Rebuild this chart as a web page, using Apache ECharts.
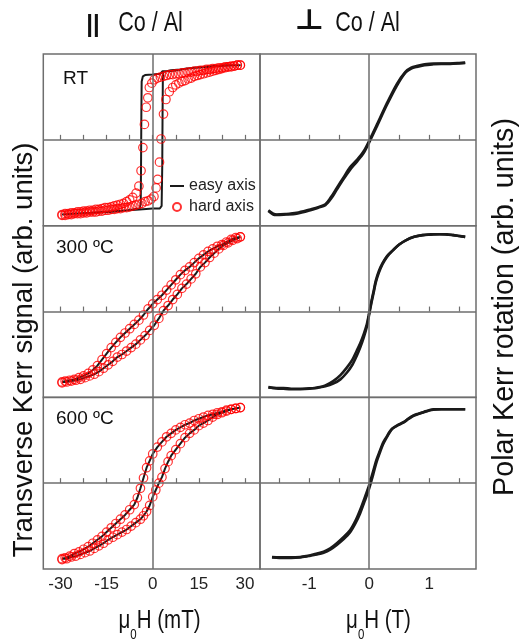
<!DOCTYPE html>
<html>
<head>
<meta charset="utf-8">
<script src="https://cdn.jsdelivr.net/npm/echarts@6.0.0/dist/echarts.min.js"></script>
<style>
  html, body { margin: 0; padding: 0; background: #fff; }
  #chart { width: 525px; height: 640px; }
</style>
</head>
<body>
<div id="chart"></div>
<script>
// ---- axis ticks ----
const fieldTicksMT = [-30, -22.5, -15, -7.5, 0, 7.5, 15, 22.5, 30];
const fieldLabelsMT = [-30, -15, 0, 15, 30];
const fieldTicksT = [-1.5, -1, -0.5, 0, 0.5, 1, 1.5];
const fieldLabelsT = [-1, 0, 1];

const rowLabels = ['RT', '300 ºC', '600 ºC'];

// ---- transverse Kerr, in-plane field (mT, normalised signal) ----
// RT, easy axis
const easyRT_down = [[28.6,0.87],[26,0.87],[22,0.86],[18,0.85],[14,0.84],[11,0.83],[8,0.81],[5.5,0.80],[4,0.80],[3.2,0.80],[2.5,0.77],[0,0.76],[-2.5,0.755],[-3.2,0.74],[-3.6,0.68],[-3.7,0.3],[-3.8,-0.3],[-3.9,-0.75],[-4.3,-0.80],[-8,-0.82],[-14,-0.84],[-20,-0.85],[-26,-0.86],[-29.5,-0.87]];
const easyRT_up = [[-29.5,-0.87],[-26,-0.86],[-20,-0.85],[-14,-0.835],[-8,-0.82],[-4.3,-0.81],[0,-0.80],[2.3,-0.80],[2.9,-0.77],[3.1,-0.3],[3.2,0.3],[3.3,0.74],[3.5,0.80],[4.5,0.80],[6,0.81],[9,0.82],[12,0.835],[16,0.85],[20,0.86],[24,0.87],[28.6,0.87]];
// RT, hard axis
const hardRT_down = [[28.5,0.87],[27.5,0.87],[26.5,0.86],[25.5,0.86],[24.5,0.85],[23.5,0.85],[22.5,0.84],[21.5,0.84],[20.5,0.83],[19.5,0.83],[18.5,0.82],[17.5,0.82],[16.5,0.81],[15.5,0.81],[14.5,0.80],[13.5,0.80],[12.5,0.79],[11.5,0.79],[10.5,0.78],[9.5,0.78],[8.5,0.77],[7.5,0.77],[6.5,0.76],[5.5,0.76],[4.5,0.75],[3.5,0.74],[2.5,0.73],[1.5,0.72],[0.5,0.70],[-0.3,0.66],[-1.1,0.61],[-1.6,0.49],[-2.1,0.38],[-2.7,0.18],[-3.2,-0.09],[-3.8,-0.36],[-4.5,-0.54],[-5.4,-0.62],[-6.5,-0.67],[-7.5,-0.70],[-8.5,-0.72],[-9.5,-0.74],[-10.5,-0.75],[-11.5,-0.76],[-12.5,-0.77],[-13.5,-0.78],[-14.5,-0.79],[-15.5,-0.79],[-16.5,-0.80],[-17.5,-0.81],[-18.5,-0.81],[-19.5,-0.82],[-20.5,-0.82],[-21.5,-0.83],[-22.5,-0.83],[-23.5,-0.84],[-24.5,-0.84],[-25.5,-0.85],[-26.5,-0.85],[-27.5,-0.86],[-28.5,-0.86],[-29.5,-0.87]];
const hardRT_up = [[-29.5,-0.88],[-28.5,-0.88],[-27.5,-0.87],[-26.5,-0.87],[-25.5,-0.86],[-24.5,-0.86],[-23.5,-0.86],[-22.5,-0.85],[-21.5,-0.85],[-20.5,-0.84],[-19.5,-0.84],[-18.5,-0.84],[-17.5,-0.83],[-16.5,-0.83],[-15.5,-0.82],[-14.5,-0.82],[-13.5,-0.81],[-12.5,-0.81],[-11.5,-0.80],[-10.5,-0.80],[-9.5,-0.79],[-8.5,-0.79],[-7.5,-0.78],[-6.5,-0.77],[-5.5,-0.76],[-4.5,-0.75],[-3.5,-0.74],[-2.5,-0.72],[-1.5,-0.71],[-0.5,-0.69],[0.4,-0.66],[1.1,-0.56],[1.6,-0.46],[2.2,-0.26],[2.7,0.01],[3.5,0.30],[4.3,0.47],[5.4,0.56],[6.5,0.61],[7.5,0.64],[8.5,0.66],[9.5,0.68],[10.5,0.69],[11.5,0.71],[12.5,0.72],[13.5,0.74],[14.5,0.75],[15.5,0.76],[16.5,0.77],[17.5,0.78],[18.5,0.79],[19.5,0.80],[20.5,0.81],[21.5,0.82],[22.5,0.83],[23.5,0.84],[24.5,0.85],[25.5,0.85],[26.5,0.86],[27.5,0.87],[28.5,0.87]];
// 300 ºC (easy and hard axis coincide)
const loop300_down = [[28.5,0.87],[27,0.86],[25.5,0.84],[24,0.81],[22.5,0.78],[21,0.76],[19.5,0.73],[18,0.70],[16.5,0.66],[15,0.62],[13.5,0.57],[12,0.52],[10.5,0.48],[9,0.43],[7.5,0.37],[6,0.31],[4.5,0.25],[3,0.19],[1.5,0.14],[0,0.09],[-1.5,0.03],[-3,-0.04],[-4.5,-0.10],[-6,-0.15],[-7.5,-0.20],[-9,-0.25],[-10.5,-0.30],[-12,-0.36],[-13.5,-0.42],[-15,-0.49],[-16.5,-0.56],[-18,-0.63],[-19.5,-0.68],[-21,-0.72],[-22.5,-0.75],[-24,-0.77],[-25.5,-0.79],[-27,-0.80],[-28.5,-0.81],[-29.5,-0.82]];
const loop300_up = [[-29.5,-0.83],[-28,-0.82],[-26.5,-0.81],[-25,-0.80],[-23.5,-0.79],[-22,-0.77],[-20.5,-0.75],[-19,-0.73],[-17.5,-0.70],[-16,-0.66],[-14.5,-0.62],[-13,-0.58],[-11.5,-0.53],[-10,-0.50],[-8.5,-0.46],[-7,-0.42],[-5.5,-0.38],[-4,-0.33],[-2.5,-0.28],[-1,-0.22],[0.5,-0.16],[2,-0.08],[3.5,0.01],[5,0.07],[6.5,0.14],[8,0.20],[9.5,0.27],[11,0.32],[12.5,0.38],[14,0.44],[15.5,0.52],[17,0.57],[18.5,0.63],[20,0.68],[21.5,0.73],[23,0.77],[24.5,0.80],[26,0.83],[27.5,0.85],[28.5,0.87]];
// 600 ºC (easy and hard axis coincide)
const loop600_down = [[28.5,0.88],[27,0.87],[25.5,0.86],[24,0.85],[22.5,0.83],[21,0.82],[19.5,0.80],[18,0.79],[16.5,0.77],[15,0.75],[13.5,0.73],[12,0.70],[10.5,0.68],[9,0.65],[7.5,0.62],[6,0.58],[4.5,0.54],[3,0.48],[1.5,0.42],[0,0.34],[-1,0.26],[-2,0.18],[-3,0.06],[-4,-0.06],[-5,-0.17],[-6,-0.25],[-7.5,-0.31],[-9,-0.37],[-10.5,-0.42],[-12,-0.47],[-13.5,-0.52],[-15,-0.57],[-16.5,-0.62],[-18,-0.66],[-19.5,-0.70],[-21,-0.74],[-22.5,-0.77],[-24,-0.80],[-25.5,-0.82],[-27,-0.85],[-28.5,-0.87],[-29.5,-0.88]];
const loop600_up = [[-29.5,-0.89],[-28,-0.88],[-26.5,-0.86],[-25,-0.85],[-23.5,-0.83],[-22,-0.81],[-20.5,-0.79],[-19,-0.76],[-17.5,-0.73],[-16,-0.70],[-14.5,-0.66],[-13,-0.63],[-11.5,-0.60],[-10,-0.57],[-8.5,-0.54],[-7,-0.50],[-5.5,-0.46],[-4,-0.42],[-3,-0.38],[-2,-0.33],[-1,-0.26],[0,-0.16],[1,-0.08],[2,0.00],[3,0.07],[4,0.17],[5,0.25],[6,0.32],[7.5,0.39],[9,0.46],[10.5,0.53],[12,0.58],[13.5,0.62],[15,0.67],[16.5,0.70],[18,0.73],[19.5,0.77],[21,0.80],[22.5,0.82],[24,0.84],[25.5,0.86],[27,0.87],[28.5,0.88]];

// ---- polar Kerr, out-of-plane field (T, normalised rotation) ----
const polarRT_a = [[-1.68,-0.82],[-1.6,-0.86],[-1.54,-0.87],[-1.4,-0.865],[-1.21,-0.85],[-0.98,-0.81],[-0.85,-0.785],[-0.73,-0.75],[-0.64,-0.67],[-0.54,-0.56],[-0.43,-0.44],[-0.32,-0.32],[-0.2,-0.23],[-0.09,-0.13],[0.0,-0.01],[0.13,0.18],[0.29,0.42],[0.46,0.65],[0.6,0.79],[0.7,0.84],[0.79,0.86],[0.92,0.88],[1.07,0.89],[1.2,0.89],[1.35,0.89],[1.5,0.895],[1.6,0.90]];
const polarRT_b = [[-1.68,-0.83],[-1.6,-0.87],[-1.54,-0.875],[-1.4,-0.87],[-1.21,-0.86],[-0.98,-0.82],[-0.85,-0.79],[-0.73,-0.76],[-0.64,-0.69],[-0.54,-0.58],[-0.43,-0.46],[-0.32,-0.35],[-0.2,-0.25],[-0.09,-0.15],[0.0,-0.03],[0.13,0.16],[0.29,0.40],[0.46,0.63],[0.6,0.78],[0.7,0.83],[0.79,0.85],[0.92,0.87],[1.07,0.88],[1.2,0.885],[1.35,0.885],[1.5,0.89],[1.6,0.895]];
const polar300_a = [[-1.68,-0.88],[-1.55,-0.89],[-1.43,-0.89],[-1.3,-0.90],[-1.15,-0.90],[-1.0,-0.895],[-0.87,-0.89],[-0.73,-0.86],[-0.6,-0.81],[-0.48,-0.74],[-0.37,-0.65],[-0.28,-0.56],[-0.21,-0.46],[-0.15,-0.37],[-0.09,-0.26],[-0.04,-0.15],[-0.01,-0.05],[0.04,0.13],[0.08,0.26],[0.11,0.36],[0.16,0.47],[0.22,0.56],[0.3,0.65],[0.39,0.71],[0.5,0.78],[0.61,0.83],[0.75,0.87],[0.89,0.89],[1.03,0.90],[1.17,0.90],[1.3,0.90],[1.4,0.89],[1.5,0.88],[1.6,0.87]];
const polar300_b = [[-1.68,-0.885],[-1.55,-0.895],[-1.43,-0.90],[-1.3,-0.905],[-1.15,-0.905],[-1.0,-0.90],[-0.87,-0.885],[-0.73,-0.87],[-0.6,-0.84],[-0.48,-0.79],[-0.37,-0.71],[-0.28,-0.62],[-0.21,-0.52],[-0.15,-0.42],[-0.09,-0.30],[-0.04,-0.18],[-0.01,-0.07],[0.04,0.11],[0.08,0.24],[0.11,0.34],[0.16,0.45],[0.22,0.55],[0.3,0.64],[0.39,0.71],[0.5,0.78],[0.61,0.83],[0.75,0.87],[0.89,0.89],[1.03,0.895],[1.17,0.90],[1.3,0.895],[1.4,0.89],[1.5,0.88],[1.6,0.87]];
const polar600_a = [[-1.62,-0.86],[-1.5,-0.865],[-1.43,-0.865],[-1.3,-0.865],[-1.15,-0.86],[-1.05,-0.85],[-0.98,-0.84],[-0.87,-0.82],[-0.76,-0.80],[-0.65,-0.76],[-0.54,-0.70],[-0.43,-0.63],[-0.32,-0.55],[-0.23,-0.44],[-0.15,-0.31],[-0.07,-0.16],[0.0,-0.02],[0.07,0.15],[0.12,0.27],[0.18,0.38],[0.23,0.47],[0.29,0.54],[0.34,0.60],[0.39,0.64],[0.48,0.68],[0.57,0.71],[0.65,0.75],[0.74,0.79],[0.82,0.81],[0.91,0.83],[1.0,0.85],[1.07,0.86],[1.2,0.86],[1.35,0.86],[1.5,0.86],[1.6,0.86]];
const polar600_b = [[-1.62,-0.865],[-1.5,-0.87],[-1.43,-0.87],[-1.3,-0.87],[-1.15,-0.865],[-1.05,-0.855],[-0.98,-0.845],[-0.87,-0.83],[-0.76,-0.81],[-0.65,-0.775],[-0.54,-0.72],[-0.43,-0.655],[-0.32,-0.575],[-0.23,-0.47],[-0.15,-0.35],[-0.07,-0.20],[0.0,-0.06],[0.07,0.11],[0.12,0.24],[0.18,0.36],[0.23,0.45],[0.29,0.53],[0.34,0.59],[0.39,0.635],[0.48,0.675],[0.57,0.705],[0.65,0.745],[0.74,0.785],[0.82,0.805],[0.91,0.825],[1.0,0.845],[1.07,0.855],[1.2,0.86],[1.35,0.86],[1.5,0.86],[1.6,0.86]];

// ---- layout ----
const GRAY = '#6e6e6e';
const INK = '#1a1a1a';
const RED = '#ff0000';
const FONT = 'Liberation Sans, Arial, sans-serif';
const cols = [
  { left: 43.3, width: 216.7, min: -35.6, max: 34.9, ticks: fieldTicksMT, labels: fieldLabelsMT },
  { left: 260,  width: 216,   min: -1.82, max: 1.78, ticks: fieldTicksT,  labels: fieldLabelsT }
];
const rowTops = [54, 225.7, 397.3];
const rowH = 171.7;

const grids = [], xAxes = [], yAxes = [], series = [];
rowTops.forEach((top, r) => {
  cols.forEach((c, ci) => {
    const i = grids.length;
    grids.push({ left: c.left, top: top, width: c.width, height: rowH, show: true,
                 borderColor: GRAY, borderWidth: 1.5, backgroundColor: 'transparent', containLabel: false });
    xAxes.push({
      gridIndex: i, type: 'value', min: c.min, max: c.max,
      axisLine: { show: false }, splitLine: { show: false },
      axisTick: { show: true, inside: true, length: 5, customValues: c.ticks, lineStyle: { color: GRAY, width: 1.2 } },
      axisLabel: { show: r === 2, customValues: c.labels, margin: 7, fontSize: 17, color: '#222', fontFamily: FONT }
    });
    yAxes.push({ gridIndex: i, type: 'value', min: -1, max: 1, show: false });
    // zero lines across each panel
    series.push({
      type: 'line', xAxisIndex: i, yAxisIndex: i, data: [], silent: true, z: 1,
      markLine: { silent: true, symbol: 'none', animation: false, label: { show: false },
                  lineStyle: { color: GRAY, width: 1.5, type: 'solid' },
                  data: [{ xAxis: 0 }, { yAxis: 0 }] }
    });
  });
});

function easyLine(i, pts) {
  return { name: 'easy axis', type: 'line', xAxisIndex: i, yAxisIndex: i, data: pts,
           showSymbol: false, symbol: 'none', z: 3,
           lineStyle: { color: INK, width: 2 },
           itemStyle: { color: 'rgba(0,0,0,0)', borderWidth: 0 } };
}
function hardDots(i, pts) {
  return { name: 'hard axis', type: 'scatter', xAxisIndex: i, yAxisIndex: i, data: pts,
           symbol: 'circle', symbolSize: 8.5, z: 4,
           itemStyle: { color: 'rgba(255,255,255,0)', borderColor: RED, borderWidth: 1.2 } };
}
function polarLine(i, pts) {
  return { type: 'line', xAxisIndex: i, yAxisIndex: i, data: pts, showSymbol: false, symbol: 'none',
           smooth: 0.3, z: 3, lineStyle: { color: INK, width: 2.6 } };
}

series.push(easyLine(0, easyRT_down.concat(easyRT_up)));
series.push(hardDots(0, hardRT_down.concat(hardRT_up)));
series.push(easyLine(2, loop300_down.concat(loop300_up)));
series.push(hardDots(2, loop300_down.concat(loop300_up)));
series.push(easyLine(4, loop600_down.concat(loop600_up)));
series.push(hardDots(4, loop600_down.concat(loop600_up)));
series.push(polarLine(1, polarRT_a), polarLine(1, polarRT_b));
series.push(polarLine(3, polar300_a), polarLine(3, polar300_b));
series.push(polarLine(5, polar600_a), polarLine(5, polar600_b));

const rowLabelPos = [[63, 79], [56, 248], [56, 419]];
const graphic = [];
rowLabels.forEach((t, r) => {
  graphic.push({ type: 'text', x: rowLabelPos[r][0], y: rowLabelPos[r][1],
                 style: { text: t, font: '19px ' + FONT, fill: '#111', align: 'left', verticalAlign: 'middle' } });
});
// column headings
graphic.push({ type: 'text', x: 93, y: 25,
               style: { text: '||', font: 'bold 24px ' + FONT, fill: '#111', align: 'center', verticalAlign: 'middle' } });
graphic.push({ type: 'text', x: 150.5, y: 23, scaleX: 0.77,
               style: { text: 'Co / Al', font: '28px ' + FONT, fill: '#111', align: 'center', verticalAlign: 'middle' } });
graphic.push({ type: 'text', x: 309.5, y: 22, scaleX: 1.15,
               style: { text: '⊥', font: 'bold 28px DejaVu Sans', fill: '#111', align: 'center', verticalAlign: 'middle' } });
graphic.push({ type: 'text', x: 367.5, y: 23, scaleX: 0.77,
               style: { text: 'Co / Al', font: '28px ' + FONT, fill: '#111', align: 'center', verticalAlign: 'middle' } });
// field axis titles
function fieldTitle(x, unit) {
  return { type: 'text', x: x, y: 621, scaleX: 0.82,
           style: { text: '{m|μ}{s|0}{m|H (' + unit + ')}', align: 'center', verticalAlign: 'middle', fill: '#111',
                    rich: { m: { fontSize: 25, fontFamily: FONT, lineHeight: 30, fill: '#111' },
                            s: { fontSize: 14, fontFamily: FONT, lineHeight: 42, verticalAlign: 'bottom', fill: '#111' } } } };
}
graphic.push(fieldTitle(159.5, 'mT'));
graphic.push(fieldTitle(378.5, 'T'));
// signal axis titles
graphic.push({ type: 'text', x: 24, y: 350, rotation: Math.PI / 2,
               style: { text: 'Transverse Kerr signal (arb. units)', font: '27.5px ' + FONT, fill: '#111',
                        align: 'center', verticalAlign: 'middle' } });
graphic.push({ type: 'text', x: 505, y: 307, rotation: Math.PI / 2,
               style: { text: 'Polar Kerr rotation (arb. units)', font: '28.7px ' + FONT, fill: '#111',
                        align: 'center', verticalAlign: 'middle' } });

const chart = echarts.init(document.getElementById('chart'), null, { renderer: 'canvas' });
chart.setOption({
  animation: false,
  backgroundColor: '#fff',
  grid: grids, xAxis: xAxes, yAxis: yAxes, series: series,
  legend: {
    data: ['easy axis', 'hard axis'], orient: 'vertical', left: 169, top: 178, padding: 0,
    itemWidth: 14, itemHeight: 8, itemGap: 5, selectedMode: false,
    textStyle: { fontSize: 16, color: '#222', fontFamily: FONT }
  },
  graphic: graphic
});
</script>
</body>
</html>
